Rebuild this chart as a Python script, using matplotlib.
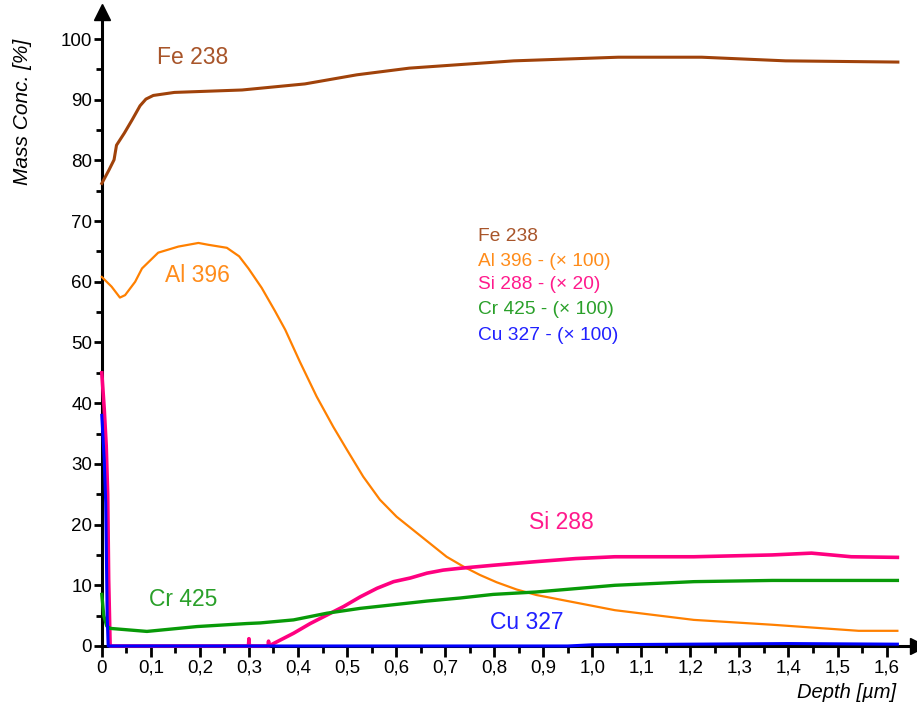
import numpy as np
import matplotlib
matplotlib.use("Agg")
import matplotlib.pyplot as plt
from matplotlib.ticker import MultipleLocator, FuncFormatter

plt.rcParams['font.family'] = ['Liberation Sans', 'DejaVu Sans']

# depth profiles (depth in um, mass conc. in %)
fe_depth = [0, 0.0145, 0.025, 0.030, 0.046, 0.062, 0.078, 0.09, 0.105, 0.148, 0.286,
            0.414, 0.52, 0.627, 0.733, 0.84, 1.053, 1.223, 1.394, 1.623]
fe_conc = [76.2, 78.4, 80.1, 82.5, 84.5, 86.7, 89.0, 90.1, 90.7, 91.2, 91.6,
           92.6, 94.1, 95.2, 95.8, 96.4, 97.0, 97.0, 96.4, 96.2]

al_depth = [0, 0.020, 0.037, 0.0475, 0.068, 0.082, 0.115, 0.156, 0.197, 0.217,
            0.255, 0.280, 0.299, 0.326, 0.353, 0.374, 0.404, 0.438, 0.472, 0.5, 0.533,
            0.567, 0.601, 0.635, 0.669, 0.703, 0.737, 0.771, 0.805, 0.846, 0.886,
            1.046, 1.207, 1.367, 1.543, 1.622]
al_conc = [60.8, 59.2, 57.4, 57.8, 60.0, 62.2, 64.8, 65.8, 66.4, 66.1,
           65.6, 64.2, 62.2, 59.0, 55.2, 52.1, 46.8, 41.1, 36.1, 32.3, 27.9,
           24.1, 21.3, 19.1, 16.9, 14.7, 13.1, 11.7, 10.5, 9.3, 8.4,
           5.9, 4.3, 3.5, 2.5, 2.5]

si_depth = [0, 0.005, 0.009, 0.012, 0.014, 0.017, 0.299, 0.300, 0.301, 0.339,
            0.340, 0.341, 0.35, 0.391, 0.425, 0.459, 0.493, 0.527, 0.561, 0.595,
            0.629, 0.663, 0.696, 0.730, 0.798, 0.886, 0.966, 1.046, 1.207, 1.367,
            1.447, 1.528, 1.622]
si_conc = [45, 39, 33, 25, 11, 0, 0, 1.2, 0, 0,
           0.8, 0, 0.4, 2.1, 3.7, 5.1, 6.5, 8.1, 9.5, 10.6,
           11.2, 12.0, 12.5, 12.8, 13.3, 13.9, 14.4, 14.7, 14.7, 15.0,
           15.3, 14.7, 14.6]

cr_depth = [0, 0.004, 0.010, 0.017, 0.092, 0.194, 0.296, 0.323, 0.391, 0.459,
            0.527, 0.595, 0.663, 0.730, 0.798, 0.886, 1.046, 1.207, 1.367, 1.622]
cr_conc = [8.5, 5.0, 3.3, 2.9, 2.4, 3.2, 3.7, 3.8, 4.3, 5.4,
           6.2, 6.8, 7.4, 7.9, 8.5, 8.9, 10.0, 10.6, 10.8, 10.8]

cu_depth = [0, 0.005, 0.008, 0.011, 0.013, 0.95, 1.0, 1.2, 1.4, 1.622]
cu_conc = [38, 30.6, 23.6, 5, 0, 0, 0.2, 0.3, 0.4, 0.3]

series_names = ["Fe 238", "Al 396", "Si 288", "Cr 425", "Cu 327"]
legend_texts = ["Fe 238", "Al 396 - (\u00d7 100)", "Si 288 - (\u00d7 20)",
                "Cr 425 - (\u00d7 100)", "Cu 327 - (\u00d7 100)"]

line_colors = ['#A0420A', '#FF8000', '#FF0080', '#089A08', '#0000FF']
text_colors = ['#A8552A', '#FF8C1A', '#FF1A8C', '#2AA02A', '#2020FF']

fig = plt.figure(figsize=(9.17, 7.04), dpi=100)
ax = fig.add_axes([0.111, 0.0824, 0.8906, 0.901])

data = [(fe_depth, fe_conc, 2.2), (al_depth, al_conc, 1.6), (si_depth, si_conc, 2.6),
        (cr_depth, cr_conc, 2.4), (cu_depth, cu_conc, 2.2)]
for (d, c, lw), col in zip(data, line_colors):
    ax.plot(d, c, color=col, lw=lw, zorder=3, clip_on=False)

ax.set_xlim(0, 1.665)
ax.set_ylim(0, 104.5)

for s in ['top', 'right']:
    ax.spines[s].set_visible(False)
for s in ['left', 'bottom']:
    ax.spines[s].set_linewidth(2.2)

# arrow heads at the end of the axes
ax.plot(1, 0, '>k', ms=11, transform=ax.transAxes, clip_on=False, zorder=4)
ax.plot(0, 1, '^k', ms=11, transform=ax.transAxes, clip_on=False, zorder=4)

ax.xaxis.set_minor_locator(MultipleLocator(0.05))
ax.yaxis.set_major_locator(MultipleLocator(10))
ax.yaxis.set_minor_locator(MultipleLocator(5))
ax.set_xticks([t for t in np.arange(0, 1.61, 0.1)])
ax.xaxis.set_major_formatter(FuncFormatter(
    lambda v, p: '0' if abs(v) < 1e-9 else f'{v:.1f}'.replace('.', ',')))
ax.yaxis.set_major_formatter(FuncFormatter(lambda v, p: f'{v:.0f}'))

ax.tick_params(axis='x', which='major', length=8, width=2, labelsize=13.5, pad=2)
ax.tick_params(axis='x', which='minor', length=5, width=2)
ax.tick_params(axis='y', which='major', length=6, width=2, labelsize=13.5, pad=1)
ax.tick_params(axis='y', which='minor', length=4, width=2)

# curve labels
label_pos = [(0.186, 97.0), (0.194, 61.1), (0.937, 20.4), (0.166, 7.6), (0.867, 3.8)]
for name, (x, y), col in zip(series_names, label_pos, text_colors):
    ax.text(x, y, name, color=col, fontsize=16.5, ha='center', va='center')

# legend block
legend_y = [67.5, 63.4, 59.5, 55.4, 51.1]
for txt, y, col in zip(legend_texts, legend_y, text_colors):
    ax.text(0.767, y, txt, color=col, fontsize=13.8, ha='left', va='center')

fig.text(23 / 917, 1 - 112 / 704, 'Mass Conc. [%]', rotation=90, style='italic',
         fontsize=15, ha='center', va='center')
fig.text(847 / 917, 1 - 693 / 704, 'Depth [\u00b5m]', style='italic',
         fontsize=14.5, ha='center', va='center')

fig.savefig('out.png', dpi=100)
